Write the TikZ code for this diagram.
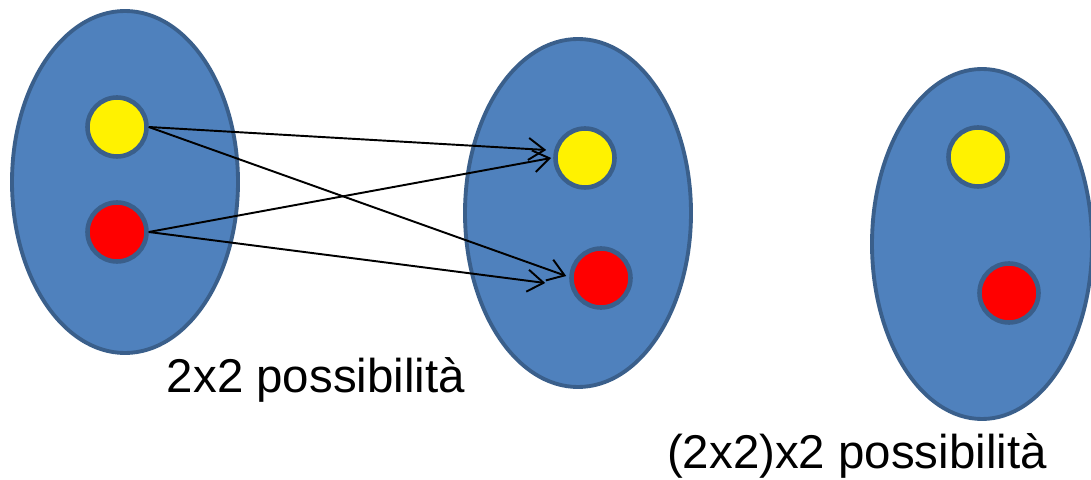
\documentclass[tikz,border=0pt]{standalone}
\usepackage{fontspec}
\setmainfont{Liberation Sans}
\usepackage{xcolor}
\usetikzlibrary{arrows.meta,shapes.geometric}

\definecolor{setfill}{HTML}{4F81BD}
\definecolor{setline}{HTML}{3A5F8B}

\begin{document}
\begin{tikzpicture}[
  x=0.2mm, y=-0.2mm,
  set/.style={draw=setline, line width=2.2pt, fill=setfill, ellipse, inner sep=0pt, minimum width=45.2mm, minimum height=68.4mm},
  ball/.style={draw=setline, line width=2.6pt, circle, inner sep=0pt, minimum size=11.8mm},
  yball/.style={ball, fill=yellow},
  rball/.style={ball, fill=red},
  lbl/.style={font=\fontsize{27}{32}\selectfont, inner sep=0pt},
  arrow/.style={-{Straight Barb[length=3.2mm, width=4.4mm]}, line width=1.1pt}
]
\path[use as bounding box, clip] (0,0) rectangle (1091,480);

% the three sets
\node[set] (left) at (125,182) {};
\node[set, minimum height=69.6mm] (mid) at (578,213) {};
\node[set, minimum width=44mm, minimum height=70mm] (right) at (982,244) {};

% elements
\node[yball] (ly) at (117,127) {};
\node[rball] (lr) at (117,232) {};
\node[yball] (my) at (585,158) {};
\node[rball] (mr) at (601,278) {};
\node[yball] (ry) at (978,157) {};
\node[rball] (rr) at (1009,293) {};

% maps
\draw[arrow] (ly.east) -- ([shift={(-7,-8)}]my.west);
\draw[arrow] (lr.east) -- ([shift={(-2,0)}]my.west);
\draw[arrow] (ly.east) -- ([shift={(-3,-2)}]mr.west);
\draw[arrow] (lr.east) -- ([shift={(-24,5)}]mr.west);

\node[lbl] (two) at (316,380) {2x2 possibilità};
\node[lbl] (three) at (857,456) {(2x2)x2 possibilità};
\end{tikzpicture}
\end{document}
